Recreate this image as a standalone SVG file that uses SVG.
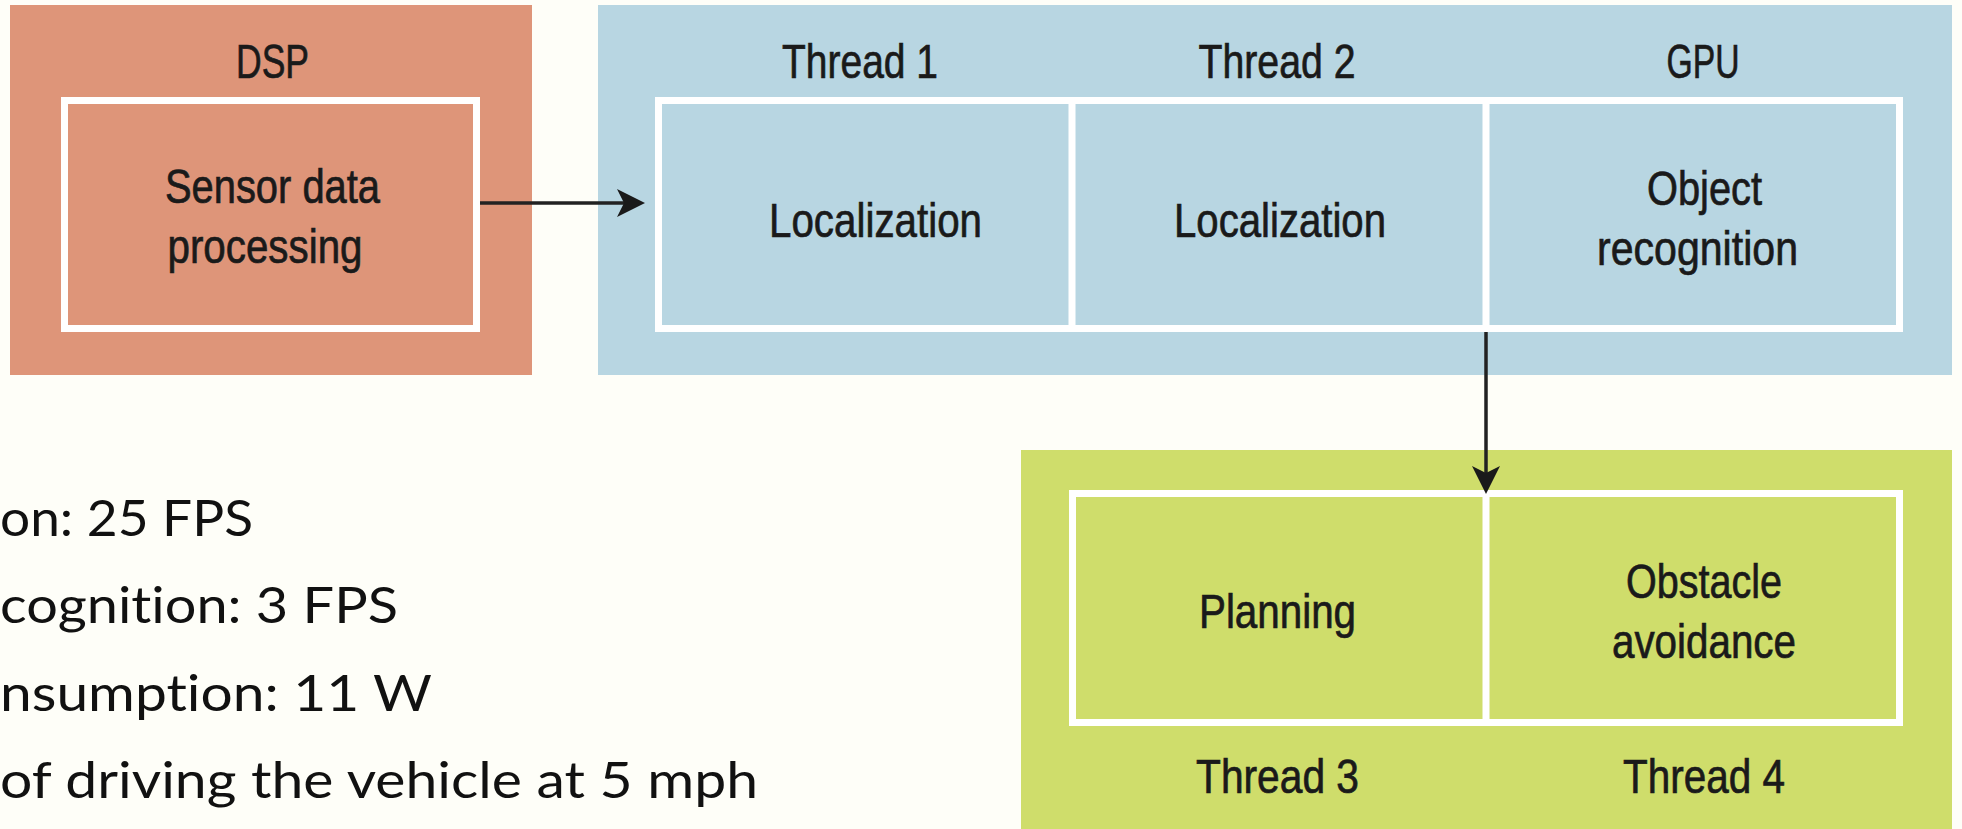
<svg xmlns="http://www.w3.org/2000/svg" width="1962" height="829" viewBox="0 0 1962 829">
<style>
.lbl{font-family:"Liberation Sans Narrow","Liberation Sans",Arial,sans-serif;font-size:48px;fill:#1a1a1a;stroke:#1a1a1a;stroke-width:0.7px;text-anchor:middle}
.inner{fill:none;stroke:#ffffff;stroke-width:7}
.div{stroke:#ffffff;stroke-width:7}
.note{font-family:Lato,"Open Sans","Liberation Sans",sans-serif;font-size:50px;fill:#111;font-variant-ligatures:none}
.conn{stroke:#222;stroke-width:3.5;fill:none}
.head{fill:#1a1a1a}
</style>
<rect x="0" y="0" width="1962" height="829" fill="#FEFEF8"/>
<g id="dsp">
<rect x="10" y="5" width="522" height="370" fill="#DE9579"/>
<rect class="inner" x="64.5" y="100.5" width="412" height="228"/>
<text class="lbl" x="272.5" y="78" textLength="73" lengthAdjust="spacingAndGlyphs">DSP</text>
<text class="lbl" x="272.5" y="203" textLength="215" lengthAdjust="spacingAndGlyphs">Sensor data</text>
<text class="lbl" x="265" y="263" textLength="195" lengthAdjust="spacingAndGlyphs">processing</text>
</g>
<g id="cpu-gpu">
<rect x="598" y="5" width="1354" height="370" fill="#B8D6E2"/>
<rect class="inner" x="658.5" y="100.5" width="1241" height="228"/>
<line class="div" x1="1072" y1="100" x2="1072" y2="329"/>
<line class="div" x1="1486" y1="100" x2="1486" y2="329"/>
<text class="lbl" x="860" y="78" textLength="156" lengthAdjust="spacingAndGlyphs">Thread 1</text>
<text class="lbl" x="1277" y="78" textLength="157" lengthAdjust="spacingAndGlyphs">Thread 2</text>
<text class="lbl" x="1703" y="78" textLength="73" lengthAdjust="spacingAndGlyphs">GPU</text>
<text class="lbl" x="875.5" y="237" textLength="213" lengthAdjust="spacingAndGlyphs">Localization</text>
<text class="lbl" x="1280" y="237" textLength="212" lengthAdjust="spacingAndGlyphs">Localization</text>
<text class="lbl" x="1704.5" y="205" textLength="115" lengthAdjust="spacingAndGlyphs">Object</text>
<text class="lbl" x="1697.5" y="265" textLength="201" lengthAdjust="spacingAndGlyphs">recognition</text>
</g>
<g id="planning">
<rect x="1021" y="450" width="931" height="379" fill="#CFDD6B"/>
<rect class="inner" x="1072.5" y="493.5" width="827" height="229"/>
<line class="div" x1="1486" y1="493" x2="1486" y2="723"/>
<text class="lbl" x="1277.5" y="628" textLength="157" lengthAdjust="spacingAndGlyphs">Planning</text>
<text class="lbl" x="1704" y="598" textLength="156" lengthAdjust="spacingAndGlyphs">Obstacle</text>
<text class="lbl" x="1704" y="658" textLength="184" lengthAdjust="spacingAndGlyphs">avoidance</text>
<text class="lbl" x="1277.5" y="793" textLength="163" lengthAdjust="spacingAndGlyphs">Thread 3</text>
<text class="lbl" x="1704" y="793" textLength="162" lengthAdjust="spacingAndGlyphs">Thread 4</text>
</g>
<g id="notes">
<text class="note" x="0" y="536" textLength="253" lengthAdjust="spacingAndGlyphs">on: 25 FPS</text>
<text class="note" x="0" y="623" textLength="398" lengthAdjust="spacingAndGlyphs">cognition: 3 FPS</text>
<text class="note" x="0" y="711" textLength="432" lengthAdjust="spacingAndGlyphs">nsumption: 11 W</text>
<text class="note" x="0" y="798" textLength="758" lengthAdjust="spacingAndGlyphs">of driving the vehicle at 5 mph</text>
</g>
<g id="connectors">
<line class="conn" x1="480" y1="203" x2="628" y2="203"/>
<path class="head" d="M645,203 L617,189 L624,203 L617,217 Z"/>
<line class="conn" x1="1486" y1="332" x2="1486" y2="476"/>
<path class="head" d="M1486,494 L1472,466 L1486,473 L1500,466 Z"/>
</g>
</svg>
